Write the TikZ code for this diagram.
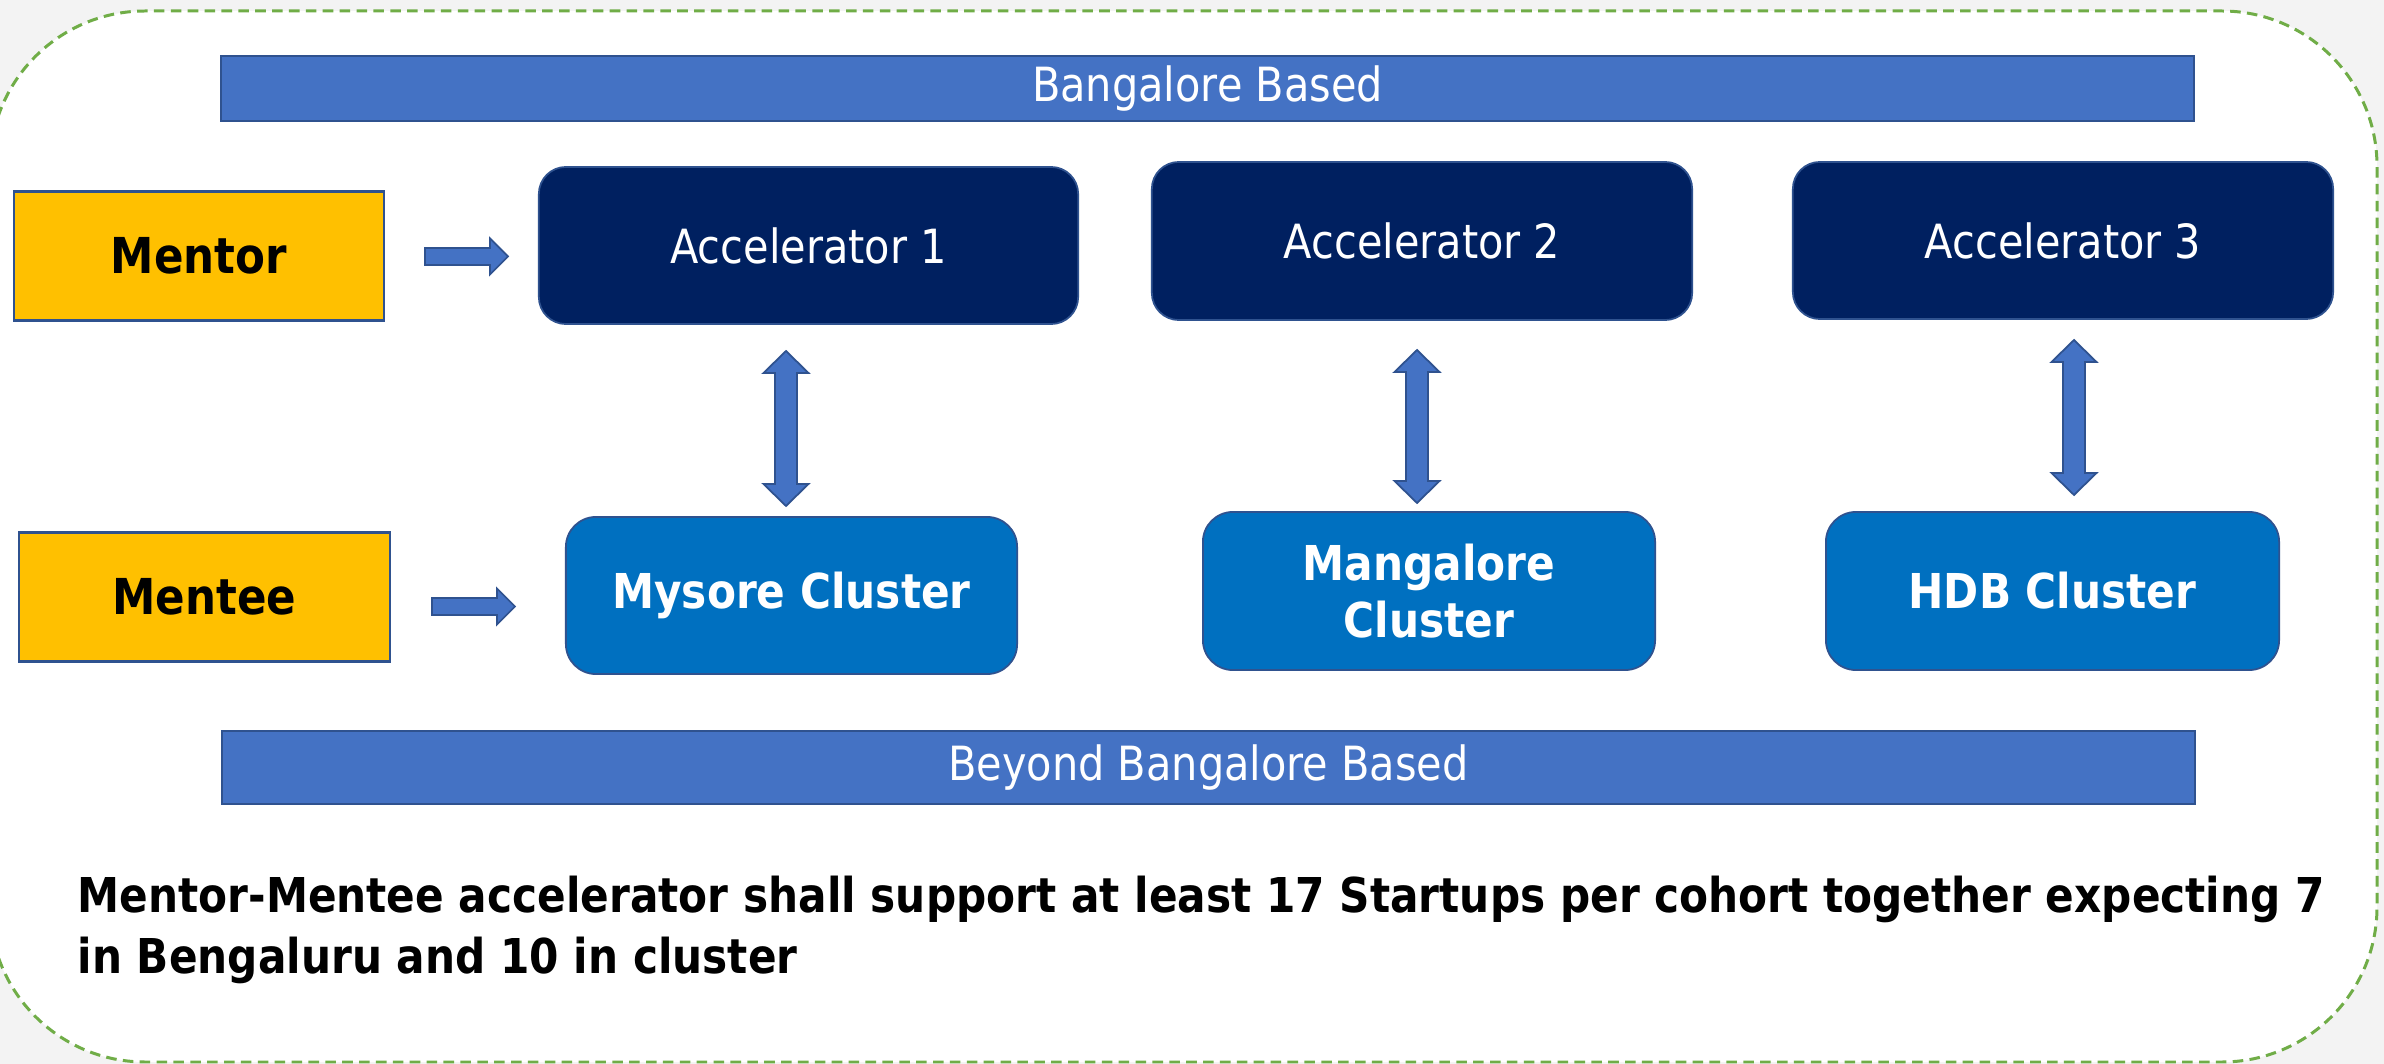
\documentclass[tikz,border=0pt]{standalone}
\usepackage{fontspec}
\setmainfont{DejaVu Sans}[FakeStretch=0.88]
\usetikzlibrary{calc}
\definecolor{navy}{HTML}{002060}
\definecolor{clusterblue}{HTML}{0070C0}
\definecolor{barblue}{HTML}{4472C4}
\definecolor{edgeblue}{HTML}{2F528F}
\definecolor{gold}{HTML}{FFC000}
\definecolor{dashgreen}{HTML}{70AD47}
\definecolor{outergray}{HTML}{F3F3F3}
\newcommand\hblockarrow[2]{%
  \filldraw[blockarrow] ($(#1)+(0,-8.5)$) -- ($(#2)+(-18,-8.5)$) -- ($(#2)+(-18,-18)$) -- (#2)
    -- ($(#2)+(-18,18)$) -- ($(#2)+(-18,8.5)$) -- ($(#1)+(0,8.5)$) -- cycle;}
\newcommand\vdblarrow[2]{%
  \filldraw[blockarrow] (#1) -- ($(#1)+(22.5,22)$) -- ($(#1)+(11,22)$) -- ($(#2)+(11,-22)$)
    -- ($(#2)+(22.5,-22)$) -- (#2) -- ($(#2)+(-22.5,-22)$) -- ($(#2)+(-11,-22)$)
    -- ($(#1)+(-11,22)$) -- ($(#1)+(-22.5,22)$) -- cycle;}
\begin{document}
\begin{tikzpicture}[x=0.01cm,y=-0.01cm,
  bar/.style={draw=edgeblue, line width=0.6pt, fill=barblue, text=white, inner sep=0pt,
    font=\fontsize{13.4}{16}\selectfont},
  accbox/.style={draw=edgeblue, line width=0.5pt, fill=navy, rounded corners=0.27cm,
    text=white, inner sep=0pt, font=\fontsize{13.4}{16}\selectfont},
  clusterbox/.style={draw=edgeblue, line width=0.5pt, fill=clusterblue, rounded corners=0.3cm,
    text=white, inner sep=0pt, align=center, font=\bfseries\fontsize{13.66}{16.2}\selectfont},
  rolebox/.style={draw=edgeblue, line width=0.6pt, fill=gold, text=black, inner sep=0pt,
    minimum width=3.70cm, minimum height=1.29cm, font=\bfseries\fontsize{14.08}{16.5}\selectfont},
  blockarrow/.style={draw=edgeblue, fill=barblue, line width=0.5pt, line join=miter},
  caption/.style={anchor=base west, inner sep=0pt, text=black,
    font=\bfseries\fontsize{13.65}{17.4}\selectfont}]
\useasboundingbox (0,0) rectangle (2384,1064);
\fill[outergray] (0,0) rectangle (2384,1064);
\begin{scope}
  \clip (0,0) rectangle (2384,1064);
  \draw[dashgreen, line width=0.85pt, dash pattern=on 3pt off 1.8pt, fill=white,
    rounded corners=1.55cm] (-10,11) rectangle (2377,1062);
\end{scope}

\node[bar, minimum width=19.71cm, minimum height=0.65cm] (topbar) at (1207.5,88.5) {Bangalore Based};
\node[bar, minimum width=19.71cm, minimum height=0.73cm] (botbar) at (1208.5,767.5) {Beyond Bangalore Based};

\node[rolebox] (mentor) at (199,256) {Mentor};
\node[rolebox] (mentee) at (204.5,597) {Mentee};

\node[accbox, minimum width=5.39cm, minimum height=1.57cm] (acc1) at (808.5,245.5) {Accelerator 1};
\node[accbox, minimum width=5.40cm, minimum height=1.58cm] (acc2) at (1422,241) {Accelerator 2};
\node[accbox, minimum width=5.40cm, minimum height=1.57cm] (acc3) at (2063,240.5) {Accelerator 3};

\node[clusterbox, minimum width=4.51cm, minimum height=1.57cm] (mysore) at (791.5,595.5) {Mysore Cluster};
\node[clusterbox, minimum width=4.52cm, minimum height=1.58cm] (mangalore) at (1429,591) {Mangalore\\Cluster};
\node[clusterbox, minimum width=4.53cm, minimum height=1.58cm] (hdb) at (2052.5,591) {HDB Cluster};

\coordinate (mentorS) at (425,256.5);
\coordinate (mentorT) at (508,256.5);
\coordinate (menteeS) at (432,606.5);
\coordinate (menteeT) at (515,606.5);
\hblockarrow{mentorS}{mentorT}
\hblockarrow{menteeS}{menteeT}

\coordinate (a1top) at (786,351);
\coordinate (a1bot) at (786,506);
\coordinate (a2top) at (1417,350);
\coordinate (a2bot) at (1417,503);
\coordinate (a3top) at (2074,340);
\coordinate (a3bot) at (2074,495);
\vdblarrow{a1top}{a1bot}
\vdblarrow{a2top}{a2bot}
\vdblarrow{a3top}{a3bot}

\node[caption] (cap1) at (77,912) {Mentor-Mentee accelerator shall support at least 17 Startups per cohort together expecting 7};
\node[caption] (cap2) at (77,973) {in Bengaluru and 10 in cluster};
\end{tikzpicture}
\end{document}
